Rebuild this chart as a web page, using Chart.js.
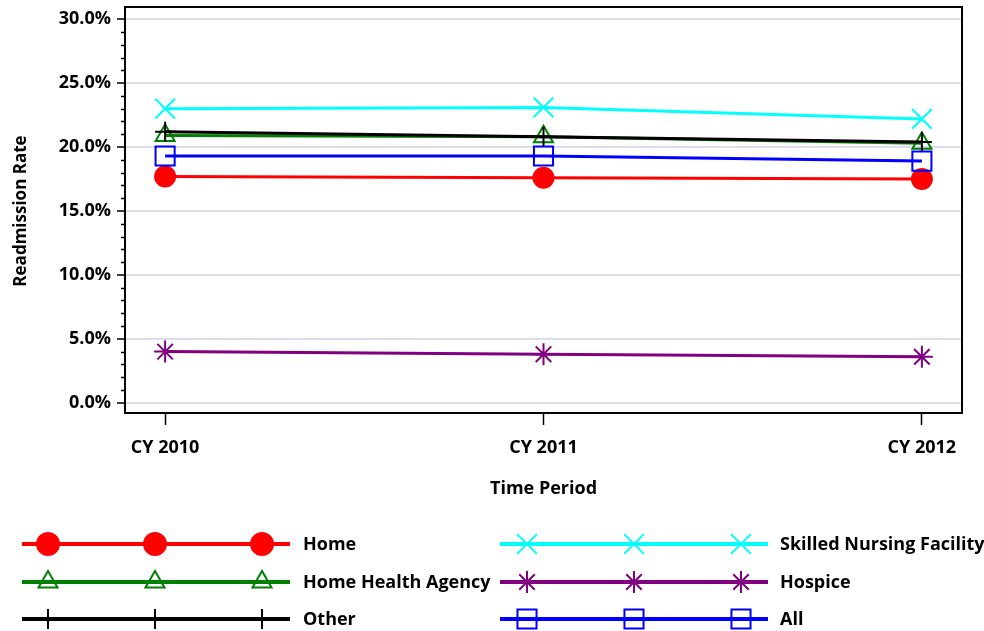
<!DOCTYPE html>
<html>
<head>
<meta charset="utf-8">
<script src="https://cdn.jsdelivr.net/npm/chart.js@4/dist/chart.umd.min.js"></script>
<style>
	html, body { margin: 0; padding: 0; background: #fff; }
	#wrap { width: 984px; height: 631px; }
</style>
</head>
<body>
<div id="wrap"><canvas id="readmission-chart" width="984" height="631"></canvas></div>
<script>
const periods = ['CY 2010', 'CY 2011', 'CY 2012'];
const yTicks = [0, 5, 10, 15, 20, 25, 30];

const homeRates = [17.7, 17.6, 17.5];
const skilledNursingRates = [23.0, 23.1, 22.2];
const homeHealthRates = [20.9, 20.8, 20.3];
const hospiceRates = [4.0, 3.8, 3.6];
const otherRates = [21.2, 20.8, 20.4];
const allRates = [19.3, 19.3, 18.9];

const FONT = '"Open Sans", sans-serif';

const toPoints = (arr) => arr.map((v, i) => ({ x: i, y: v }));

const series = [
	{ label: 'Home', data: homeRates, color: '#FF0000', style: 'circle', radius: 10, fill: '#FF0000' },
	{ label: 'Skilled Nursing Facility', data: skilledNursingRates, color: '#00FFFF', style: 'crossRot', radius: 14, fill: 'transparent' },
	{ label: 'Home Health Agency', data: homeHealthRates, color: '#008000', style: 'triangle', radius: 11, fill: 'transparent' },
	{ label: 'Hospice', data: hospiceRates, color: '#800080', style: 'star', radius: 11, fill: 'transparent' },
	{ label: 'Other', data: otherRates, color: '#000000', style: 'cross', radius: 10, fill: 'transparent' },
	{ label: 'All', data: allRates, color: '#0000FF', style: 'rect', radius: 13.5, fill: 'transparent' },
];

// frame, minor ticks, axis titles and the line+marker legend
const extras = {
	id: 'extras',
	afterDraw(chart) {
		const ctx = chart.ctx;
		const area = chart.chartArea;
		const yScale = chart.scales.y;
		ctx.save();

		// top and right edges of the box
		ctx.strokeStyle = '#000';
		ctx.lineWidth = 2;
		ctx.beginPath();
		ctx.moveTo(area.left, area.top);
		ctx.lineTo(area.right, area.top);
		ctx.lineTo(area.right, area.bottom);
		ctx.stroke();

		// minor ticks every 1%
		ctx.lineWidth = 1.5;
		ctx.beginPath();
		for (let v = 0; v <= 30; v++) {
			if (v % 5 === 0) continue;
			const y = Math.round(yScale.getPixelForValue(v)) + 0.5;
			ctx.moveTo(area.left - 4, y);
			ctx.lineTo(area.left, y);
		}
		ctx.stroke();

		// axis titles
		ctx.fillStyle = '#000';
		ctx.textAlign = 'center';
		ctx.textBaseline = 'middle';
		ctx.font = 'bold 18px ' + FONT;
		ctx.fillText('Time Period', (area.left + area.right) / 2, 489);
		ctx.save();
		ctx.translate(21, 211);
		ctx.rotate(-Math.PI / 2);
		ctx.font = 'bold 17px ' + FONT;
		ctx.fillText('Readmission Rate', 0, 0);
		ctx.restore();

		// legend
		const cols = [
			{ x0: 22, x1: 290, marks: [48, 155, 262], tx: 303 },
			{ x0: 500, x1: 768, marks: [527, 634, 741], tx: 780 },
		];
		const rows = [544, 582, 619];
		ctx.font = 'bold 18px ' + FONT;
		ctx.textAlign = 'left';
		series.forEach((s, i) => {
			const c = cols[i % 2];
			const y = rows[Math.floor(i / 2)];
			ctx.strokeStyle = s.color;
			ctx.lineWidth = 4;
			ctx.beginPath();
			ctx.moveTo(c.x0, y);
			ctx.lineTo(c.x1, y);
			ctx.stroke();
			c.marks.forEach((mx) => {
				ctx.fillStyle = s.fill;
				ctx.strokeStyle = s.color;
				ctx.lineWidth = 2;
				Chart.helpers.drawPoint(ctx, {
					pointStyle: s.style,
					radius: s.style === 'circle' ? 11 : s.radius,
					borderWidth: 2,
					rotation: 0,
				}, mx, y);
			});
			ctx.fillStyle = '#000';
			ctx.fillText(s.label, c.tx, y + 1);
		});

		ctx.restore();
	}
};

new Chart(
	document.getElementById('readmission-chart'),
	{
		type: 'line',
		data: {
			datasets: series.map((s, i) => ({
				label: s.label,
				data: toPoints(s.data),
				borderColor: s.color,
				backgroundColor: s.fill,
				pointBorderColor: s.color,
				pointBackgroundColor: s.fill,
				borderWidth: 3,
				pointStyle: s.style,
				pointRadius: s.radius,
				pointBorderWidth: 2,
				pointHoverRadius: s.radius,
				order: series.length - i,
			}))
		},
		options: {
			responsive: false,
			animation: false,
			layout: {
				autoPadding: false,
				padding: { left: 0, top: 7, right: 22, bottom: 0 },
			},
			plugins: {
				legend: { display: false },
				tooltip: { enabled: false },
			},
			scales: {
				x: {
					type: 'linear',
					min: -0.106,
					max: 2.106,
					afterBuildTicks: (scale) => { scale.ticks = periods.map((p, i) => ({ value: i })); },
					afterFit: (scale) => {
						scale.height = 218;
						scale.paddingLeft = 0;
						scale.paddingRight = 0;
					},
					ticks: {
						callback: (v) => periods[v],
						color: '#000',
						font: { family: FONT, size: 18, weight: 'bold' },
						padding: 12,
						maxRotation: 0,
					},
					grid: {
						color: '#FFFFFF',
						lineWidth: 1,
						tickColor: '#000',
						tickLength: 12,
						tickWidth: 1.5,
					},
					border: { color: '#000', width: 2 },
				},
				y: {
					min: -0.8,
					max: 30.95,
					afterBuildTicks: (scale) => { scale.ticks = yTicks.map((v) => ({ value: v })); },
					afterFit: (scale) => {
						scale.width = 125;
						scale.paddingTop = 0;
						scale.paddingBottom = 0;
					},
					ticks: {
						callback: (v) => v.toFixed(1) + '%',
						color: '#000',
						font: { family: FONT, size: 18, weight: 'bold' },
						padding: 6,
					},
					grid: {
						color: '#DCDCEA',
						lineWidth: 2,
						tickColor: '#000',
						tickLength: 8,
						tickWidth: 1.5,
					},
					border: { color: '#000', width: 2 },
				}
			}
		},
		plugins: [extras],
	}
);
</script>
</body>
</html>
